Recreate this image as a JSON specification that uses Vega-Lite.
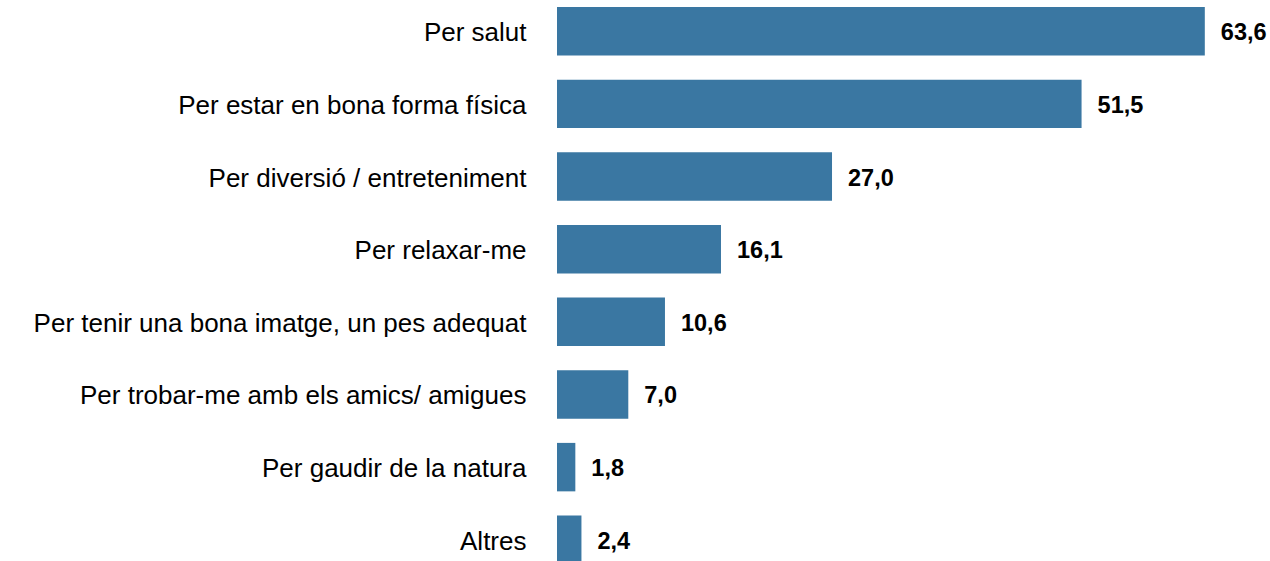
{
  "$schema": "https://vega.github.io/schema/vega-lite/v6.json",
  "width": 713,
  "height": 571,
  "autosize": {"type": "none"},
  "padding": {"left": 557, "top": 0, "right": 0, "bottom": 0},
  "config": {
    "view": {"stroke": null},
    "locale": {"number": {"decimal": ",", "thousands": ".", "grouping": [3], "currency": ["", "\u00a0€"]}}
  },
  "data": {
    "values": [
      {"motiu": "Per salut", "pct": 63.6},
      {"motiu": "Per estar en bona forma física", "pct": 51.5},
      {"motiu": "Per diversió / entreteniment", "pct": 27.0},
      {"motiu": "Per relaxar-me", "pct": 16.1},
      {"motiu": "Per tenir una bona imatge, un pes adequat", "pct": 10.6},
      {"motiu": "Per trobar-me amb els amics/ amigues", "pct": 7.0},
      {"motiu": "Per gaudir de la natura", "pct": 1.8},
      {"motiu": "Altres", "pct": 2.4}
    ]
  },
  "encoding": {
    "y": {
      "field": "motiu",
      "type": "nominal",
      "sort": null,
      "scale": {"paddingInner": 0.333, "paddingOuter": 0.0963},
      "axis": {
        "title": null,
        "domain": false,
        "ticks": false,
        "labelPadding": 31,
        "labelOffset": 2,
        "labelFont": "Liberation Sans",
        "labelFontSize": 26,
        "labelColor": "#000000",
        "labelLimit": 600
      }
    },
    "x": {
      "field": "pct",
      "type": "quantitative",
      "scale": {"domain": [0, 70]},
      "axis": null
    }
  },
  "layer": [
    {"mark": {"type": "bar", "color": "#3a77a2"}},
    {
      "mark": {"type": "text", "align": "left", "baseline": "middle", "dx": 16, "dy": 2, "fontWeight": "bold", "font": "Liberation Sans", "fontSize": 23.5, "color": "#000000"},
      "encoding": {"text": {"field": "pct", "type": "quantitative", "format": ".1f"}}
    }
  ]
}
